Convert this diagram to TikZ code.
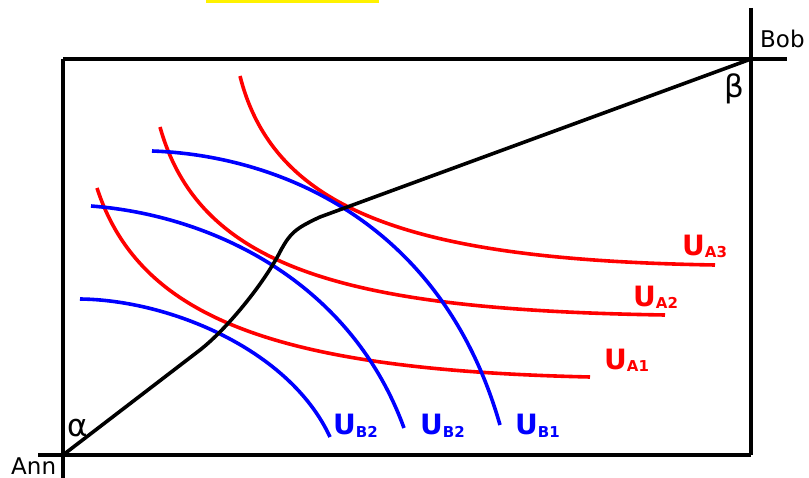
\documentclass[tikz,border=0pt]{standalone}
\usepackage{fontspec}
\setmainfont{DejaVu Sans}
\usepackage{xcolor}
\usepackage{tikz}

\tikzset{
  axisline/.style={line width=4pt, black},
  indiffA/.style={line width=3.6pt, red},
  indiffB/.style={line width=3.6pt, blue},
  ulabel/.style={font=\fontsize{28}{28}\selectfont\bfseries, inner sep=0pt, anchor=base west},
  namelabel/.style={font=\fontsize{23}{23}\selectfont, inner sep=0pt, anchor=base west},
  anglelabel/.style={font=\fontsize{31}{31}\selectfont, inner sep=0pt, anchor=base west}
}
\newcommand{\ulab}[2]{U\raisebox{-2pt}{\fontsize{15}{15}\selectfont #1#2}}

\begin{document}
\begin{tikzpicture}[x=1pt, y=-1pt]
  \useasboundingbox (0,0) rectangle (809,478);

  %% Highlight bar (cut off at top)
  \fill[yellow] (206,0) rectangle (379,3);

  %% Edgeworth box
  \draw[axisline] (63,59) -- (63,478);
  \draw[axisline] (38,455) -- (751,455);
  \draw[axisline] (751,8) -- (751,455);
  \draw[axisline] (63,59) -- (787,59);

  %% Ann's indifference curves
  \draw[indiffA] (97,188) .. controls (140,320) and (280,370) .. (590,377);
  \draw[indiffA] (160,127) .. controls (200,270) and (350,310) .. (665,315);
  \draw[indiffA] (240,76) .. controls (275,215) and (420,260) .. (715,265);

  %% Bob's indifference curves
  \draw[indiffB] (80,299) .. controls (170,300) and (290,350) .. (330,437);
  \draw[indiffB] (91,206) .. controls (210,215) and (350,280) .. (404,428);
  \draw[indiffB] (152,151) .. controls (270,155) and (440,215) .. (500,425);

  %% Contract curve
  \draw[line width=3.6pt, black, line join=round]
    (63,455) -- (200,350) .. controls (228,328) and (265,282) .. (281,250)
    .. controls (290,234) and (294,229) .. (320,217) -- (751,59);

  %% Labels
  \node[ulabel, red]  (ua3) at (682,256) {\ulab{A}{3}};
  \node[ulabel, red]  (ua2) at (633,307) {\ulab{A}{2}};
  \node[ulabel, red]  (ua1) at (604,370) {\ulab{A}{1}};
  \node[ulabel, blue] (ub2a) at (333,435) {\ulab{B}{2}};
  \node[ulabel, blue] (ub2b) at (420,435) {\ulab{B}{2}};
  \node[ulabel, blue] (ub1) at (515,435) {\ulab{B}{1}};

  \node[namelabel] (ann) at (11,474) {Ann};
  \node[namelabel] (bob) at (760,48) {Bob};
  \node[anglelabel] (alpha) at (67,436) {α};
  \node[anglelabel] (beta) at (724,98) {β};
\end{tikzpicture}
\end{document}
